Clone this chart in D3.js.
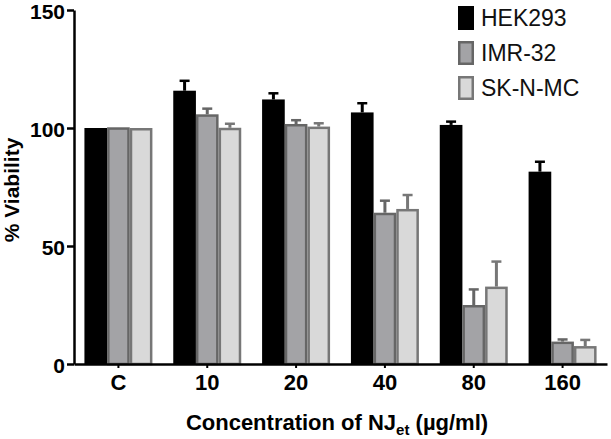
<!DOCTYPE html>
<html>
<head>
<meta charset="utf-8">
<script src="https://cdn.jsdelivr.net/npm/d3@7"></script>
<style>
  html, body { margin: 0; padding: 0; background: #fff; }
  svg { display: block; font-family: "Liberation Sans", Arial, Helvetica, sans-serif; }
</style>
</head>
<body>
<svg id="chart" width="611" height="439"></svg>
<script>
const categories = ["C", "10", "20", "40", "80", "160"];
const seriesNames = ["HEK293", "IMR-32", "SK-N-MC"];
const hek293 = [100, 115.8, 112.1, 106.6, 101.3, 81.5];
const hek293Err = [0, 4.2, 2.6, 3.9, 1.4, 4.2];
const imr32 = [100.3, 105.8, 101.7, 64.1, 25.0, 9.5];
const imr32Err = [0, 2.4, 1.6, 5.1, 6.6, 0.9];
const sknmc = [100, 100.1, 100.6, 65.7, 32.8, 7.6];
const sknmcErr = [0, 1.7, 1.4, 5.9, 10.6, 2.6];
const yTicks = [0, 50, 100, 150];

const fills = ["#000000", "#a3a3a6", "#d9d9d9"];
const strokes = ["#000000", "#666666", "#777777"];

const valuesBySeries = [hek293, imr32, sknmc];
const errBySeries = [hek293Err, imr32Err, sknmcErr];

const svg = d3.select("#chart");

const x0 = d3.scaleBand().domain(categories).range([74, 607]).padding(0);
const x1 = d3.scaleBand().domain(seriesNames).range([0, x0.bandwidth()]).paddingInner(0).paddingOuter(0.46);
const y = d3.scaleLinear().domain([0, 150]).range([364, 10]);

const data = [];
categories.forEach((c, i) => {
  seriesNames.forEach((s, j) => {
    data.push({cat: c, series: s, j: j, v: valuesBySeries[j][i], e: errBySeries[j][i]});
  });
});

// error bars
const eg = svg.append("g");
data.filter(d => d.e > 0).forEach(d => {
  const cx = x0(d.cat) + x1(d.series) + x1.bandwidth() / 2;
  const col = strokes[d.j];
  eg.append("line")
    .attr("x1", cx).attr("x2", cx)
    .attr("y1", y(d.v)).attr("y2", y(d.v + d.e))
    .attr("stroke", col).attr("stroke-width", 3);
  eg.append("line")
    .attr("x1", cx - 5).attr("x2", cx + 5)
    .attr("y1", y(d.v + d.e)).attr("y2", y(d.v + d.e))
    .attr("stroke", col).attr("stroke-width", 2.5);
});

// bars
svg.append("g").selectAll("rect").data(data).join("rect")
  .attr("x", d => x0(d.cat) + x1(d.series) + (d.j === 0 ? 0 : 1.25))
  .attr("y", d => y(d.v) + (d.j === 0 ? 0 : 1.25))
  .attr("width", d => x1.bandwidth() - (d.j === 0 ? 0 : 2.5))
  .attr("height", d => y(0) - y(d.v) - (d.j === 0 ? 0 : 1.25))
  .attr("fill", d => fills[d.j])
  .attr("stroke", d => d.j === 0 ? "none" : strokes[d.j])
  .attr("stroke-width", 2.5);

// axes
const yAxis = svg.append("g")
  .attr("transform", "translate(74,0)")
  .call(d3.axisLeft(y).tickValues(yTicks).tickSize(7).tickSizeOuter(0).tickPadding(2));
yAxis.select(".domain").attr("stroke", "#000").attr("stroke-width", 2.5);
yAxis.selectAll(".tick line").attr("stroke", "#000").attr("stroke-width", 2.5);
yAxis.selectAll(".tick text")
  .attr("font-size", 21).attr("font-weight", "bold").attr("fill", "#000")
  .attr("dy", "0.42em")
  .attr("font-family", "'Liberation Sans', Arial, sans-serif");

const xAxis = svg.append("g")
  .attr("transform", "translate(0,364)")
  .call(d3.axisBottom(x0).tickSize(4).tickSizeOuter(0).tickPadding(6));
xAxis.select(".domain").attr("stroke", "#000").attr("stroke-width", 2.5);
xAxis.selectAll(".tick line").attr("stroke", "#000").attr("stroke-width", 2);
xAxis.selectAll(".tick text")
  .attr("font-size", 22).attr("font-weight", "bold").attr("fill", "#000")
  .attr("font-family", "'Liberation Sans', Arial, sans-serif");

// axis titles
svg.append("text")
  .attr("transform", "translate(19,190) rotate(-90)")
  .attr("text-anchor", "middle")
  .attr("font-size", 21).attr("font-weight", "bold")
  .text("% Viability");

const xt = svg.append("text")
  .attr("x", 337).attr("y", 430)
  .attr("text-anchor", "middle")
  .attr("font-size", 22).attr("font-weight", "bold");
xt.append("tspan").text("Concentration of NJ");
xt.append("tspan").attr("font-size", 15).attr("dy", 5).text("et");
xt.append("tspan").attr("dy", -5).text(" (µg/ml)");

// legend
const lg = svg.append("g");
seriesNames.forEach((s, j) => {
  const ly = 6 + j * 35;
  lg.append("rect")
    .attr("x", j === 0 ? 458 : 459.25).attr("y", j === 0 ? ly : ly + 1.25)
    .attr("width", j === 0 ? 16 : 13.5).attr("height", j === 0 ? 24 : 21.5)
    .attr("fill", fills[j])
    .attr("stroke", j === 0 ? "none" : strokes[j])
    .attr("stroke-width", 2.5);
  lg.append("text")
    .attr("x", 481).attr("y", ly + 12)
    .attr("dy", "0.36em")
    .attr("font-size", 23)
    .attr("fill", "#111")
    .text(s);
});
</script>
</body>
</html>
